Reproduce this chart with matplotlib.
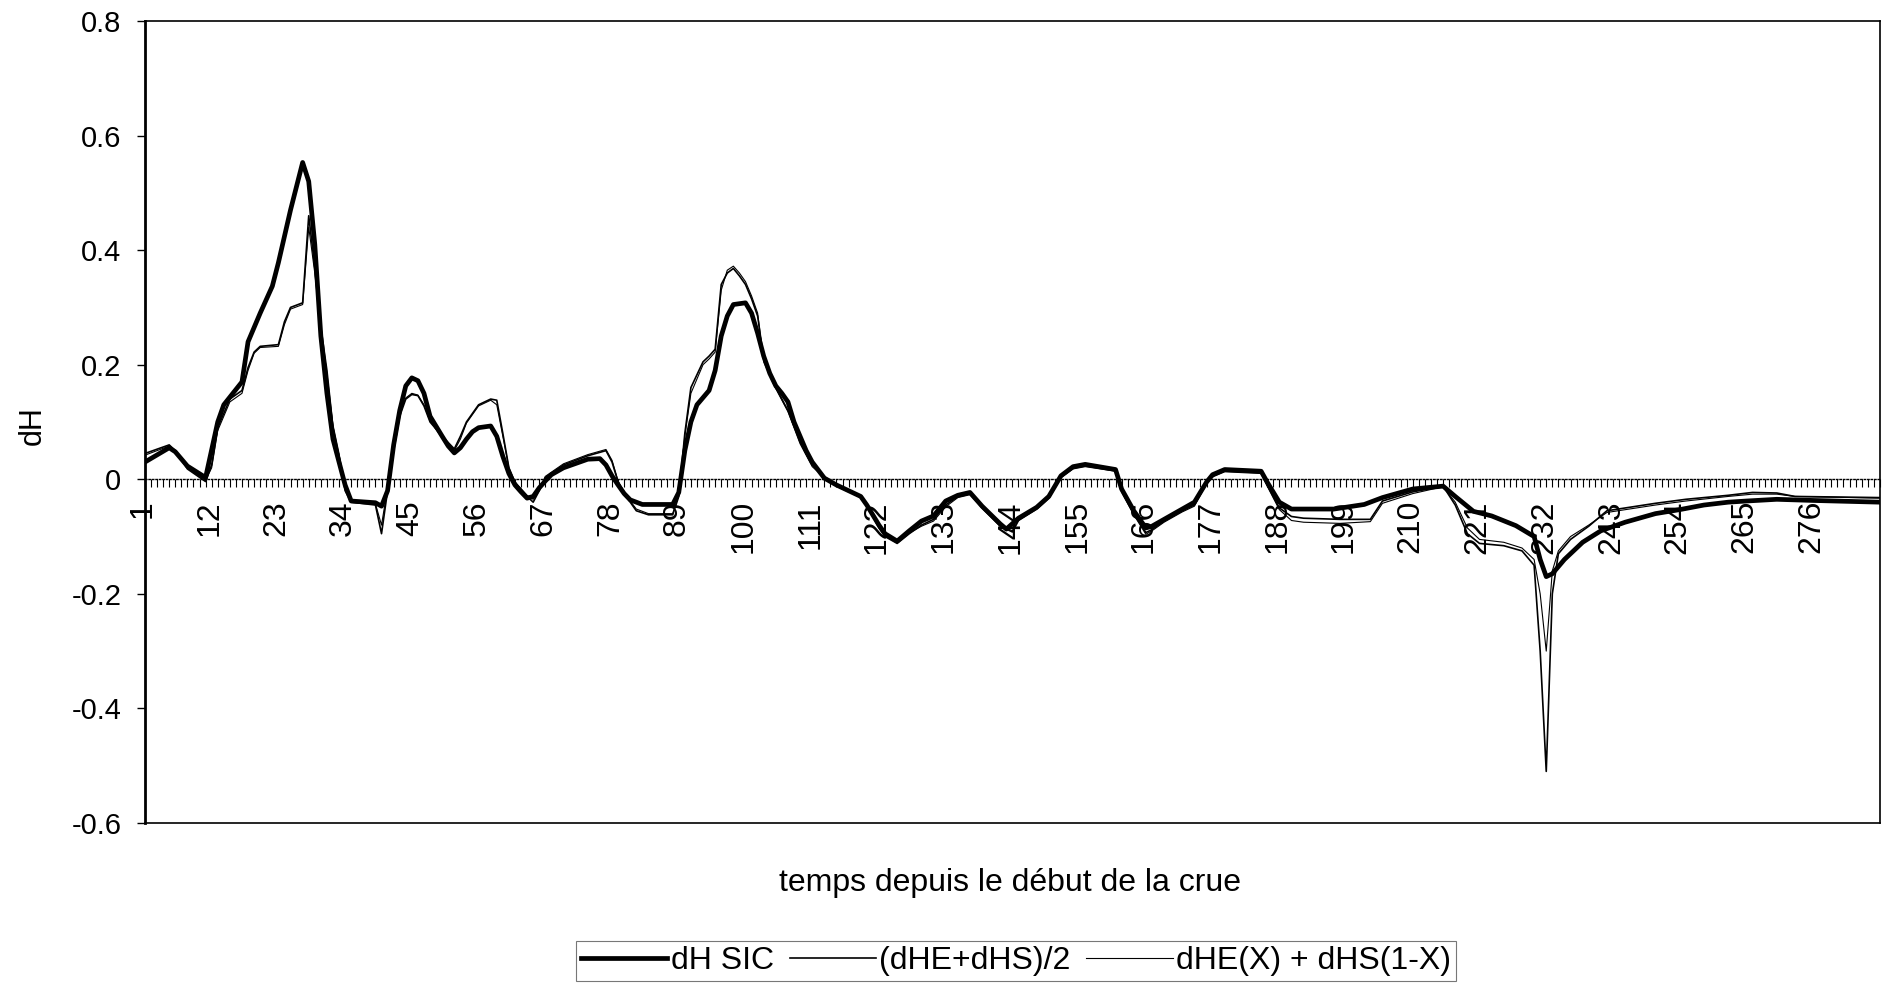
import matplotlib
matplotlib.use("Agg")
import matplotlib.pyplot as plt
import matplotlib.transforms as mtransforms

plt.rcParams['font.family'] = ['Liberation Sans', 'DejaVu Sans']

# --- data (category index, dH) ---
k_sic = [1, 5, 6, 8, 11, 13, 14, 17, 18, 20, 22, 23, 25, 27, 28, 29, 30, 31, 32, 33, 34, 35,
         39, 40, 41, 42, 43, 44, 45, 46, 47, 48, 50, 51, 52, 53, 54, 55, 56, 58, 59, 60, 61, 62,
         63, 64, 65, 66, 67, 68, 70, 74, 76, 77, 78, 79, 80, 81, 83, 88, 89, 90, 91, 92, 94, 95,
         96, 97, 98, 100, 101, 102, 103, 104, 105, 106, 107, 108, 109, 110, 111, 113, 115, 117,
         119, 120, 122, 123, 125, 127, 129, 131, 133, 135, 137, 138, 139, 142, 143, 145, 148,
         150, 152, 154, 156, 161, 162, 164, 166, 167, 169, 172, 174, 176, 177, 179, 185, 186,
         188, 190, 197, 202, 205, 210, 215, 217, 220, 223, 227, 230, 231, 232, 233, 235, 238,
         241, 245, 250, 254, 258, 262, 265, 270, 276, 287]
dh_sic = [0.03, 0.055, 0.048, 0.023, 0.003, 0.10, 0.13, 0.17, 0.24, 0.29, 0.337, 0.378, 0.47,
          0.553, 0.52, 0.41, 0.25, 0.15, 0.07, 0.03, -0.01, -0.038,
          -0.041, -0.047, -0.02, 0.06, 0.12, 0.163, 0.177, 0.172, 0.15, 0.11, 0.075, 0.058,
          0.046, 0.055, 0.07, 0.083, 0.09, 0.093, 0.075, 0.04, 0.01, -0.01,
          -0.022, -0.033, -0.03, -0.015, -0.003, 0.008, 0.02, 0.035, 0.036, 0.025, 0.006,
          -0.01, -0.025, -0.036, -0.044, -0.044, -0.023, 0.05, 0.10, 0.13, 0.155, 0.19,
          0.25, 0.285, 0.305, 0.308, 0.29, 0.255, 0.215, 0.185, 0.163, 0.15, 0.135, 0.10,
          0.075, 0.05, 0.03, 0.002, -0.01, -0.02,
          -0.03, -0.045, -0.08, -0.095, -0.108, -0.09, -0.073, -0.064, -0.038, -0.028,
          -0.023, -0.035, -0.047, -0.078, -0.087, -0.068, -0.049,
          -0.03, 0.006, 0.022, 0.026, 0.017, -0.017, -0.055, -0.085, -0.082, -0.07, -0.052,
          -0.04, -0.005, 0.008, 0.017, 0.014, -0.005,
          -0.04, -0.052, -0.052, -0.044, -0.032, -0.017, -0.012, -0.03, -0.056, -0.064,
          -0.081, -0.10, -0.14, -0.17, -0.165, -0.14, -0.11,
          -0.09, -0.075, -0.06, -0.053, -0.045, -0.04, -0.038, -0.035, -0.037, -0.04]

k_moy = [1, 5, 6, 8, 11, 12, 13, 15, 17, 18, 19, 20, 23, 24, 25, 27, 28, 29, 30, 31, 32, 33,
         34, 35, 39, 40, 41, 42, 43, 44, 45, 46, 47, 48, 50, 52, 53, 54, 56, 58, 59, 60, 61,
         62, 64, 65, 66, 67, 70, 74, 77, 78, 79, 80, 81, 82, 84, 88, 89, 90, 91, 93, 94, 95,
         96, 97, 98, 99, 100, 101, 102, 103, 105, 107, 109, 111, 113, 115, 117, 119, 120, 122,
         123, 125, 127, 129, 131, 133, 135, 137, 138, 139, 142, 144, 145, 148, 150, 152, 154,
         156, 161, 162, 164, 166, 167, 169, 172, 174, 176, 177, 179, 185, 186, 188, 190, 192,
         198, 203, 205, 210, 215, 217, 219, 221, 225, 228, 230, 231, 232, 233, 234, 236, 239,
         242, 250, 255, 262, 266, 270, 273, 287]
dh_moy = [0.045, 0.06, 0.05, 0.018, -0.004, 0.025, 0.09, 0.14, 0.155, 0.195, 0.222, 0.232,
          0.235, 0.275, 0.30, 0.308, 0.46, 0.37, 0.265, 0.19, 0.09, 0.04,
          -0.02, -0.04, -0.045, -0.095, -0.02, 0.05, 0.11, 0.14, 0.148, 0.146, 0.128, 0.10,
          0.075, 0.053, 0.075, 0.10, 0.13, 0.14, 0.138, 0.08, 0.02,
          -0.005, -0.03, -0.04, -0.02, 0.003, 0.025, 0.041, 0.05, 0.03, -0.005, -0.025,
          -0.04, -0.055, -0.062, -0.062, -0.03, 0.08, 0.16, 0.205, 0.215, 0.227,
          0.34, 0.36, 0.368, 0.355, 0.34, 0.315, 0.285, 0.21, 0.16, 0.12, 0.065, 0.025,
          0.004, -0.01, -0.02, -0.03, -0.045, -0.085,
          -0.10, -0.112, -0.095, -0.08, -0.07, -0.045, -0.03, -0.025, -0.037, -0.05, -0.082,
          -0.092, -0.072, -0.052, -0.033, 0.004, 0.02,
          0.024, 0.015, -0.02, -0.06, -0.093, -0.088, -0.073, -0.055, -0.045, -0.005,
          0.006, 0.015, 0.012, -0.01, -0.05, -0.065, -0.068,
          -0.07, -0.07, -0.038, -0.022, -0.012, -0.045, -0.095, -0.112, -0.116, -0.125,
          -0.15, -0.30, -0.51, -0.20, -0.13, -0.105, -0.082,
          -0.055, -0.042, -0.035, -0.028, -0.023, -0.024, -0.03, -0.032]

k_x = [1, 5, 6, 8, 11, 12, 13, 15, 17, 18, 19, 20, 23, 24, 25, 27, 28, 29, 30, 31, 32, 33,
       34, 35, 39, 40, 41, 42, 43, 44, 45, 46, 47, 48, 50, 52, 53, 54, 56, 58, 59, 60, 61,
       62, 64, 65, 66, 67, 70, 74, 77, 78, 79, 80, 81, 82, 84, 88, 89, 90, 91, 93, 94, 95,
       96, 97, 98, 99, 100, 101, 102, 103, 105, 107, 109, 111, 113, 115, 117, 119, 120, 122,
       123, 125, 127, 129, 131, 133, 135, 137, 138, 139, 142, 144, 145, 148, 150, 152, 154,
       156, 161, 162, 164, 166, 167, 169, 172, 174, 176, 177, 179, 185, 186, 188, 190, 192,
       198, 203, 205, 210, 215, 217, 219, 221, 225, 228, 230, 231, 232, 233, 234, 236, 239,
       242, 250, 255, 262, 266, 270, 273, 287]
dh_x = [0.042, 0.058, 0.05, 0.02, -0.002, 0.02, 0.085, 0.135, 0.15, 0.19, 0.22, 0.23,
        0.232, 0.27, 0.297, 0.305, 0.44, 0.36, 0.26, 0.185, 0.095, 0.045,
        -0.015, -0.04, -0.043, -0.08, -0.015, 0.055, 0.115, 0.142, 0.15, 0.147, 0.13, 0.102,
        0.072, 0.05, 0.07, 0.098, 0.128, 0.138, 0.13, 0.075, 0.02,
        -0.005, -0.028, -0.035, -0.018, 0.005, 0.027, 0.043, 0.052, 0.033, -0.003, -0.022,
        -0.038, -0.052, -0.06, -0.06, -0.028, 0.075, 0.15, 0.20, 0.21, 0.222,
        0.33, 0.365, 0.372, 0.36, 0.345, 0.32, 0.29, 0.205, 0.158, 0.118, 0.062, 0.022,
        0.003, -0.012, -0.022, -0.032, -0.047, -0.083,
        -0.098, -0.11, -0.094, -0.082, -0.073, -0.048, -0.032, -0.027, -0.038, -0.05, -0.08,
        -0.09, -0.07, -0.05, -0.032, 0.003, 0.018,
        0.022, 0.014, -0.022, -0.062, -0.096, -0.09, -0.075, -0.057, -0.047, -0.008,
        0.004, 0.013, 0.01, -0.012, -0.053, -0.072, -0.075,
        -0.077, -0.074, -0.042, -0.025, -0.013, -0.04, -0.085, -0.105, -0.11, -0.12,
        -0.14, -0.20, -0.30, -0.16, -0.125, -0.10, -0.08,
        -0.058, -0.045, -0.038, -0.03, -0.026, -0.026, -0.03, -0.033]

n_cat = 287
cat_labels = [1, 12, 23, 34, 45, 56, 67, 78, 89, 100, 111, 122, 133, 144, 155, 166, 177,
              188, 199, 210, 221, 232, 243, 254, 265, 276]
y_ticks = [-0.6, -0.4, -0.2, 0, 0.2, 0.4, 0.6, 0.8]
y_labels = ['-0.6', '-0.4', '-0.2', '0', '0.2', '0.4', '0.6', '0.8']

fig = plt.figure(figsize=(18.92, 9.85), dpi=100, facecolor='white')
ax = fig.add_axes([0.0766, 0.1645, 0.917, 0.8142])

ax.plot(k_sic, dh_sic, color='black', lw=3.4, label='dH SIC', zorder=3)
ax.plot(k_moy, dh_moy, color='black', lw=1.2, label='(dHE+dHS)/2', zorder=4)
ax.plot(k_x, dh_x, color='black', lw=0.8, label='dHE(X) + dHS(1-X)', zorder=5)

ax.set_xlim(1, n_cat)
ax.set_ylim(-0.6, 0.8)
ax.set_yticks(y_ticks, y_labels, fontsize=21)
ax.tick_params(axis='y', direction='out', length=6, width=1, pad=11)
ax.tick_params(axis='x', bottom=False, labelbottom=False)
for s in ax.spines.values():
    s.set_linewidth(1.2)
ax.spines['left'].set_linewidth(2)

# category axis crossing at dH = 0
y0 = (0 - (-0.6)) / (0.8 - (-0.6))
sec = ax.secondary_xaxis(y0)
sec.set_xticks(cat_labels, [str(c) for c in cat_labels], rotation=90, fontsize=23)
sec.set_xticks(range(1, n_cat + 1), minor=True)
sec.tick_params(which='both', direction='out', length=6, width=0.8, pad=9)
sec.spines['bottom'].set_linestyle((0, (1, 1.5)))
sec.spines['bottom'].set_linewidth(1)
off = mtransforms.ScaledTranslation(-2 / 100, 0, fig.dpi_scale_trans)
for lab in sec.get_xticklabels():
    lab.set_transform(lab.get_transform() + off)

fig.text(0.0175, 0.568, 'dH', rotation=90, fontsize=22, ha='center', va='center')
fig.text(0.534, 0.1036, 'temps depuis le début de la crue', fontsize=23,
         ha='center', va='center')

leg = fig.legend(loc='center', bbox_to_anchor=(0.537, 0.0244), ncol=3, fontsize=23,
                 frameon=True, fancybox=False, handlelength=2.7, handletextpad=0.1,
                 columnspacing=0.5, borderpad=0.15, borderaxespad=0)
leg.get_frame().set_edgecolor('#555555')
leg.get_frame().set_linewidth(0.8)

fig.savefig('out.png', dpi=100, facecolor='white')
